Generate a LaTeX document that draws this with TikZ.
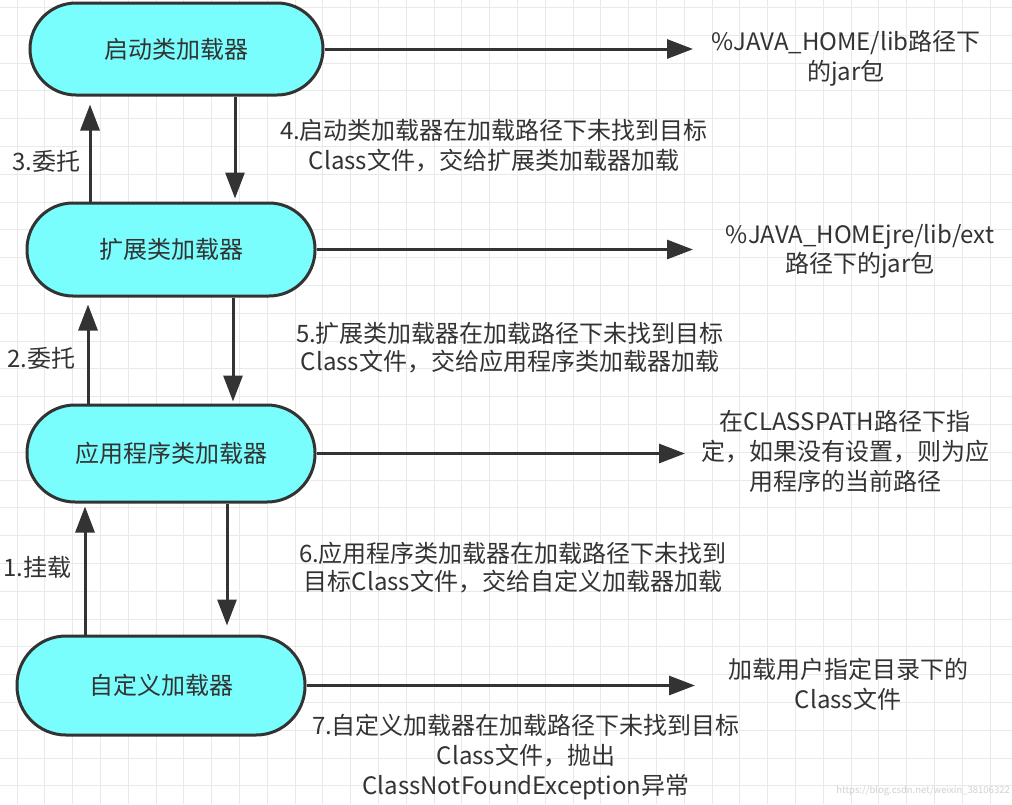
\documentclass[tikz,border=0pt]{standalone}
\usepackage{fontspec}
\setmainfont{Noto Sans CJK SC}
\usetikzlibrary{arrows.meta}
\definecolor{boxfill}{HTML}{7AFDFD}
\definecolor{ink}{HTML}{333333}
\definecolor{gridc}{HTML}{E9E9E9}
\tikzset{
  loader/.style={draw=ink, line width=3pt, fill=boxfill, text=ink,
    font=\fontsize{24}{29}\selectfont, inner sep=0pt},
  arr/.style={draw=ink, line width=3pt, -{Triangle[length=26pt,width=19pt]}},
  lbl/.style={text=ink, font=\fontsize{24}{30}\selectfont, align=center, inner sep=0pt},
}
\begin{document}
\begin{tikzpicture}[x=1pt,y=-1pt]
\clip (0,0) rectangle (1012,804);
\fill[white] (0,0) rectangle (1012,804);
\foreach \i in {0,...,36} \draw[gridc, line width=1pt] ({17+\i*27.8},0) -- ++(0,804);
\foreach \j in {0,...,29} \draw[gridc, line width=1pt] (0,{7.5+\j*27.8}) -- ++(1012,0);

% loaders
\node[loader, minimum width=293pt, minimum height=92pt, rounded corners=46pt] (n1) at (176.5,49) {启动类加载器};
\node[loader, minimum width=288pt, minimum height=93pt, rounded corners=46pt] (n2) at (171,249.5) {扩展类加载器};
\node[loader, minimum width=288pt, minimum height=97pt, rounded corners=48pt] (n3) at (171,453.5) {应用程序类加载器};
\node[loader, minimum width=288pt, minimum height=99pt, rounded corners=49pt] (n4) at (161,685.5) {自定义加载器};

% column coordinates
\coordinate (d1) at (235,0);
\coordinate (d2) at (233,0);
\coordinate (d3) at (227,0);
\coordinate (u3) at (90,0);
\coordinate (u2) at (88,0);
\coordinate (u1) at (85,0);

% right targets
\coordinate (r1) at (693,49);
\coordinate (r2) at (693,249.5);
\coordinate (r3) at (685,453.5);
\coordinate (r4) at (695,685.5);

\draw[arr] (n1.east) -- (r1);
\draw[arr] (n2.east) -- (r2);
\draw[arr] (n3.east) -- (r3);
\draw[arr] (n4.east) -- (r4);

% down arrows
\draw[arr, shorten >=3pt] (n1.south -| d1) -- (n2.north -| d1);
\draw[arr, shorten >=2pt] (n2.south -| d2) -- (n3.north -| d2);
\draw[arr, shorten >=9pt] (n3.south -| d3) -- (n4.north -| d3);

% up arrows
\draw[arr, shorten >=8pt] (n2.north -| u3) -- (n1.south -| u3);
\draw[arr, shorten >=7pt] (n3.north -| u2) -- (n2.south -| u2);
\draw[arr, shorten >=3pt] (n4.north -| u1) -- (n3.south -| u1);

% side labels
\node[lbl, anchor=west] (l3) at (12,161) {3.委托};
\node[lbl, anchor=west] (l2) at (7,358) {2.委托};
\node[lbl, anchor=west] (l1) at (3,567) {1.挂载};

% step labels
\node[lbl] (s4) at (494,146) {4.启动类加载器在加载路径下未找到目标\\Class文件，交给扩展类加载器加载};
\node[lbl, font=\fontsize{24}{28}\selectfont] (s5) at (510,348) {5.扩展类加载器在加载路径下未找到目标\\Class文件，交给应用程序类加载器加载};
\node[lbl, font=\fontsize{24}{28}\selectfont] (s6) at (513,568) {6.应用程序类加载器在加载路径下未找到\\目标Class文件，交给自定义加载器加载};
\node[lbl] (s7) at (526,757) {7.自定义加载器在加载路径下未找到目标\\Class文件，抛出\\ClassNotFoundException异常};

% right texts
\node[lbl] (t1) at (846,58) {\%JAVA\_HOME/lib路径下\\的jar包};
\node[lbl, font=\fontsize{24}{29}\selectfont] (t2) at (860,251) {\%JAVA\_HOMEjre/lib/ext\\路径下的jar包};
\node[lbl] (t3) at (845,451) {在CLASSPATH路径下指\\定，如果没有设置，则为应\\用程序的当前路径};
\node[lbl] (t4) at (848,684) {加载用户指定目录下的\\Class文件};

% watermark
\node[anchor=east, text=black!18, font=\fontsize{9.5}{11}\selectfont, inner sep=0pt] (wm) at (1010,791) {https://blog.csdn.net/weixin\_38106322};
\end{tikzpicture}
\end{document}
